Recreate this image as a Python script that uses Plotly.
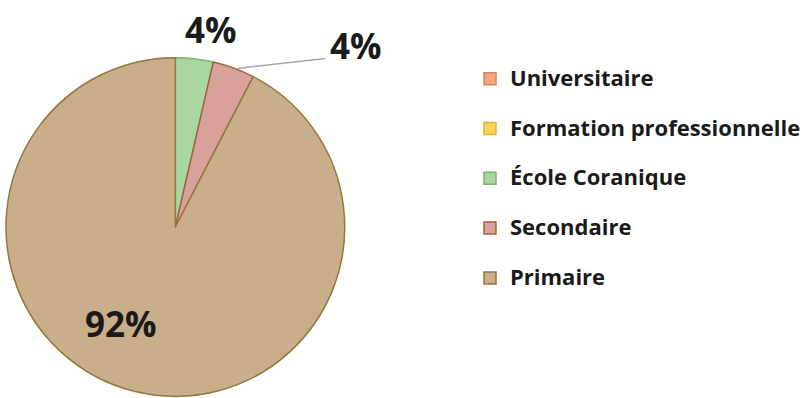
import math
import plotly.graph_objects as go

# Education level breakdown (percent of respondents)
categories = ["Universitaire", "Formation professionnelle", "École Coranique", "Secondaire", "Primaire"]
shares = [0.0, 0.0, 3.6, 4.0, 92.4]

fill_colors = ["#F4A67E", "#FFD45C", "#A9D6A1", "#D9A19B", "#C9AE8B"]
edge_colors = ["#D9835A", "#E0B43A", "#7DB26F", "#A0623F", "#94773A"]

W, H = 806, 398
# pie geometry in pixels (centre and radius follow from the domain below)
cx_px, cy_px, r_px = 176, 227, 170

dom_x = [(cx_px - r_px) / W, (cx_px + r_px) / W]
dom_y = [1 - (cy_px + r_px) / H, 1 - (cy_px - r_px) / H]

# legend entries get a blank second line so each row is taller
legend_labels = ["<span style='font-size:22px'>%s</span><br> " % c for c in categories]

fig = go.Figure(
    go.Pie(
        labels=legend_labels,
        values=shares,
        sort=False,
        direction="clockwise",
        rotation=0,
        textinfo="none",
        hoverinfo="skip",
        marker=dict(colors=fill_colors, line=dict(color=edge_colors, width=1.5)),
        domain=dict(x=dom_x, y=dom_y),
    )
)


def px_to_paper(x, y):
    return x / W, 1 - y / H


def slice_point(mid_frac, radius_frac):
    ang = 2 * math.pi * mid_frac
    return (cx_px + radius_frac * r_px * math.sin(ang),
            cy_px - radius_frac * r_px * math.cos(ang))


total = sum(shares)
cum = 0.0
mids = []
for v in shares:
    mids.append((cum + v / 2) / total)
    cum += v

label_font = dict(family="Open Sans", size=35, color="#1a1a1a")
label_kw = dict(xref="paper", yref="paper", showarrow=False,
                xanchor="center", yanchor="middle", font=label_font)

# École Coranique label above its slice
ex, ey = slice_point(mids[2], 1.0)
px, py = px_to_paper(ex, ey)
fig.add_annotation(x=px, y=py, text="<b>%.0f%%</b>" % shares[2],
                   xshift=17, yshift=29, **label_kw)

# Secondaire label pulled out to the right with a leader line
sx, sy = slice_point(mids[3], 1.0)
p0 = px_to_paper(sx + 4, sy + 1)
p1 = px_to_paper(sx + 92, sy - 9)
fig.add_shape(type="line", xref="paper", yref="paper",
              x0=p0[0], y0=p0[1], x1=p1[0], y1=p1[1],
              line=dict(color="#A6A6A6", width=1.5))
px, py = px_to_paper(sx, sy)
fig.add_annotation(x=px, y=py, text="<b>%.0f%%</b>" % shares[3],
                   xshift=122, yshift=22, **label_kw)

# Primaire label inside the large slice
mx, my = slice_point(mids[4], 0.6)
px, py = px_to_paper(mx, my)
fig.add_annotation(x=px, y=py, text="<b>%.0f%%</b>" % shares[4],
                   xshift=-30, yshift=3, **label_kw)

fig.update_layout(
    width=W,
    height=H,
    margin=dict(l=0, r=0, t=0, b=0),
    paper_bgcolor="white",
    plot_bgcolor="white",
    showlegend=True,
    legend=dict(
        x=472 / W, xanchor="left",
        y=0.848, yanchor="top",
        valign="top",
        font=dict(family="Open Sans", size=18, color="#1a1a1a", weight="bold"),
        bgcolor="rgba(0,0,0,0)",
        traceorder="normal",
    ),
)

fig.write_html("out.html")
